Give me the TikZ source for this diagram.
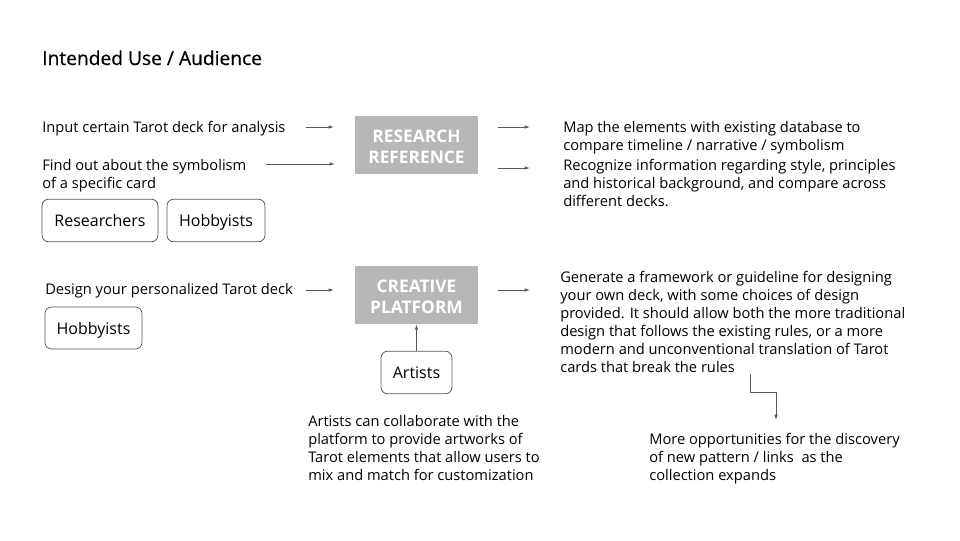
\documentclass[tikz,border=0pt]{standalone}
\usepackage{fontspec}
\setmainfont{Open Sans}
\newfontfamily\titlefont[FakeBold=0.6]{Open Sans}
\usetikzlibrary{arrows.meta}
\definecolor{boxgray}{HTML}{B7B7B7}
\definecolor{linegray}{HTML}{595959}
\newcommand{\toppad}{\rule{0pt}{12.5pt}}
\begin{document}
\begin{tikzpicture}[x=0.75pt,y=-0.75pt,
  body/.style={anchor=base west, inner sep=0, align=left, font=\fontsize{11}{13.5}\selectfont},
  titletext/.style={anchor=base west, inner sep=0, font=\titlefont\fontsize{14.4}{16}\selectfont},
  mainbox/.style={fill=boxgray, minimum width=92.25pt, minimum height=43.5pt, text=white,
    font=\bfseries\fontsize{13}{15.75}\selectfont, align=center, inner sep=0},
  pill/.style={draw=linegray, rounded corners=5pt, line width=0.6pt, inner sep=0,
    text height=11pt, text depth=1.8pt,
    minimum height=32pt, font=\fontsize{12}{14}\selectfont},
  arr/.style={draw=linegray, line width=0.6pt, -{Latex[length=4pt,width=2.6pt]}}]
\path[use as bounding box] (0,0) rectangle (960,540);

\node[titletext] (title) at (42,65) {Intended Use / Audience};

% research row (base anchor = baseline of the last line)
\node[body] (in1) at (42,132) {Input certain Tarot deck for analysis};
\node[body] (in2) at (42,188) {Find out about the symbolism\\of a specific card};
\node[mainbox] (rr) at (416.5,145) {\toppad RESEARCH\\REFERENCE};
\node[body] (map) at (563,150) {Map the elements with existing database to\\compare timeline / narrative / symbolism};
\node[body] (rec) at (563,206) {Recognize information regarding style, principles\\and historical background, and compare across\\different decks.};
\node[pill, minimum width=87pt] (res) at (100,220.5) {Researchers};
\node[pill, minimum width=73.5pt] (hob1) at (216,220.5) {Hobbyists};

\coordinate (a1s) at (306,127); \coordinate (a1e) at (334,127);
\coordinate (a2s) at (266,164); \coordinate (a2e) at (335,164);
\coordinate (a3s) at (498,127); \coordinate (a3e) at (530,127);
\coordinate (a4s) at (498,168); \coordinate (a4e) at (530,168);
\draw[arr] (a1s) -- (a1e);
\draw[arr] (a2s) -- (a2e);
\draw[arr] (a3s) -- (a3e);
\draw[arr] (a4s) -- (a4e);

% creative row
\node[body] (design) at (45,294) {Design your personalized Tarot deck};
\node[mainbox] (cp) at (416.5,295) {\toppad CREATIVE\\PLATFORM};
\node[body] (gen) at (560,372) {Generate a framework or guideline for designing\\your own deck, with some choices of design\\provided. It should allow both the more traditional\\design that follows the existing rules, or a more\\modern and unconventional translation of Tarot\\cards that break the rules};
\node[pill, minimum width=72.75pt, minimum height=31.5pt] (hob2) at (93.5,328) {Hobbyists};
\node[pill, minimum width=53.25pt] (art) at (416.5,372.5) {Artists};
\node[body] (arttext) at (308,480) {Artists can collaborate with the\\platform to provide artworks of\\Tarot elements that allow users to\\mix and match for customization};
\node[body] (more) at (649,480) {More opportunities for the discovery\\of new pattern / links\ \ as the\\collection expands};

\coordinate (b1s) at (306,290); \coordinate (b1e) at (334,290);
\coordinate (b2s) at (498,290); \coordinate (b2e) at (530,290);
\draw[arr] (b1s) -- (b1e);
\draw[arr] (b2s) -- (b2e);
\draw[arr] (art.north) -- (cp.south);
\coordinate (e1) at (750,374);
\coordinate (em) at (776,392);
\coordinate (e2) at (776,420);
\draw[arr] (e1) |- (em) -- (e2);
\end{tikzpicture}
\end{document}
